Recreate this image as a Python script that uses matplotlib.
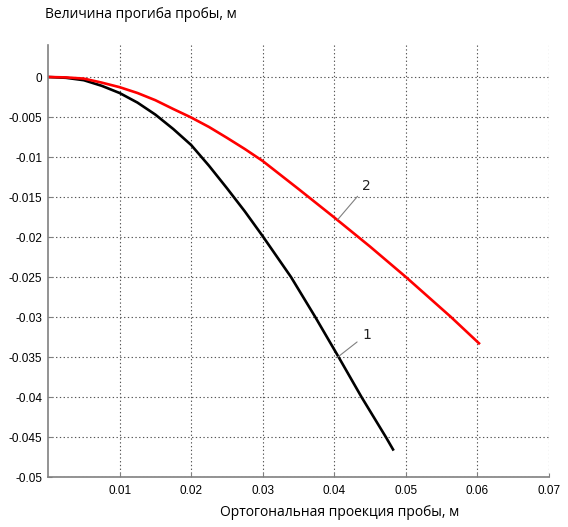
import matplotlib
matplotlib.use("Agg")
import matplotlib.pyplot as plt

# Curve 1 (black)
x1 = [0.0, 0.0025, 0.005, 0.0075, 0.01, 0.0125, 0.015, 0.0175, 0.02, 0.0225, 0.025, 0.0275,
      0.03, 0.03395, 0.03734, 0.0406, 0.0438, 0.0472, 0.0483]
y1 = [0.0, -0.0001, -0.0004, -0.0011, -0.0020, -0.0032, -0.0047, -0.0065, -0.0085, -0.0111,
      -0.0139, -0.0168, -0.0199, -0.025, -0.030, -0.035, -0.040, -0.045, -0.0467]

# Curve 2 (red)
x2 = [0.0, 0.0025, 0.005, 0.0075, 0.01, 0.0125, 0.015, 0.0175, 0.02, 0.0225, 0.025, 0.0275,
      0.03, 0.035, 0.04, 0.045, 0.05, 0.0563, 0.06035]
y2 = [0.0, -0.00005, -0.0002, -0.0007, -0.00127, -0.0020, -0.0029, -0.0040, -0.00506, -0.00625,
      -0.0076, -0.0090, -0.0105, -0.0140, -0.01756, -0.0212, -0.025, -0.030, -0.0334]

xticks = [0.01, 0.02, 0.03, 0.04, 0.05, 0.06, 0.07]
xtick_labels = ["0.01", "0.02", "0.03", "0.04", "0.05", "0.06", "0.07"]
yticks = [0, -0.005, -0.01, -0.015, -0.02, -0.025, -0.03, -0.035, -0.04, -0.045, -0.05]
ytick_labels = ["0", "-0.005", "-0.01", "-0.015", "-0.02", "-0.025", "-0.03", "-0.035", "-0.04", "-0.045", "-0.05"]

ylabel_text = "Величина прогиба пробы, м"
xlabel_text = "Ортогональная проекция пробы, м"

W, H = 568, 527
fig = plt.figure(figsize=(W / 100, H / 100), dpi=100)
ax = fig.add_axes([48 / W, 1 - 477 / H, (549 - 48) / W, (477 - 45) / H])

ax.plot(x1, y1, color="black", lw=1.9, solid_capstyle="butt", solid_joinstyle="round")
ax.plot(x2, y2, color="#ff0000", lw=1.9, solid_capstyle="butt", solid_joinstyle="round")

ax.set_xlim(0, 0.07)
ax.set_ylim(-0.05, 0.004)
ax.set_xticks(xticks)
ax.set_xticklabels(xtick_labels)
ax.set_yticks(yticks)
ax.set_yticklabels(ytick_labels)

for lab in ax.get_xticklabels() + ax.get_yticklabels():
    lab.set_fontfamily("Liberation Sans")
    lab.set_fontsize(8.5)

ax.tick_params(axis="both", direction="in", length=3, color="#808080", width=0.8)
ax.tick_params(axis="x", pad=6)
ax.tick_params(axis="y", pad=4)

ax.grid(True, color="#555555", linestyle=(0, (1.2, 2.2)), lw=0.8)
ax.set_axisbelow(True)

for side in ["top", "right"]:
    ax.spines[side].set_visible(False)
for side in ["left", "bottom"]:
    ax.spines[side].set_color("#808080")
    ax.spines[side].set_linewidth(1.2)

ann_kw = dict(arrowprops=dict(arrowstyle="-", color="#808080", lw=0.8, shrinkA=2, shrinkB=0),
              fontsize=10, family="DejaVu Sans", color="#222222", ha="center", va="center")
ax.annotate("2", xy=(0.0405, -0.0178), xytext=(0.0445, -0.0136), **ann_kw)
ax.annotate("1", xy=(0.0405, -0.0350), xytext=(0.0445, -0.0322), **ann_kw)

fig.text(45 / W, 1 - 15 / H, ylabel_text, family=["Open Sans", "DejaVu Sans"],
         fontsize=10, ha="left", va="center", color="black")
fig.text(340 / W, 1 - 513 / H, xlabel_text, family=["Open Sans", "DejaVu Sans"],
         fontsize=10, ha="center", va="center", color="black")

fig.savefig("out.png", dpi=100)
